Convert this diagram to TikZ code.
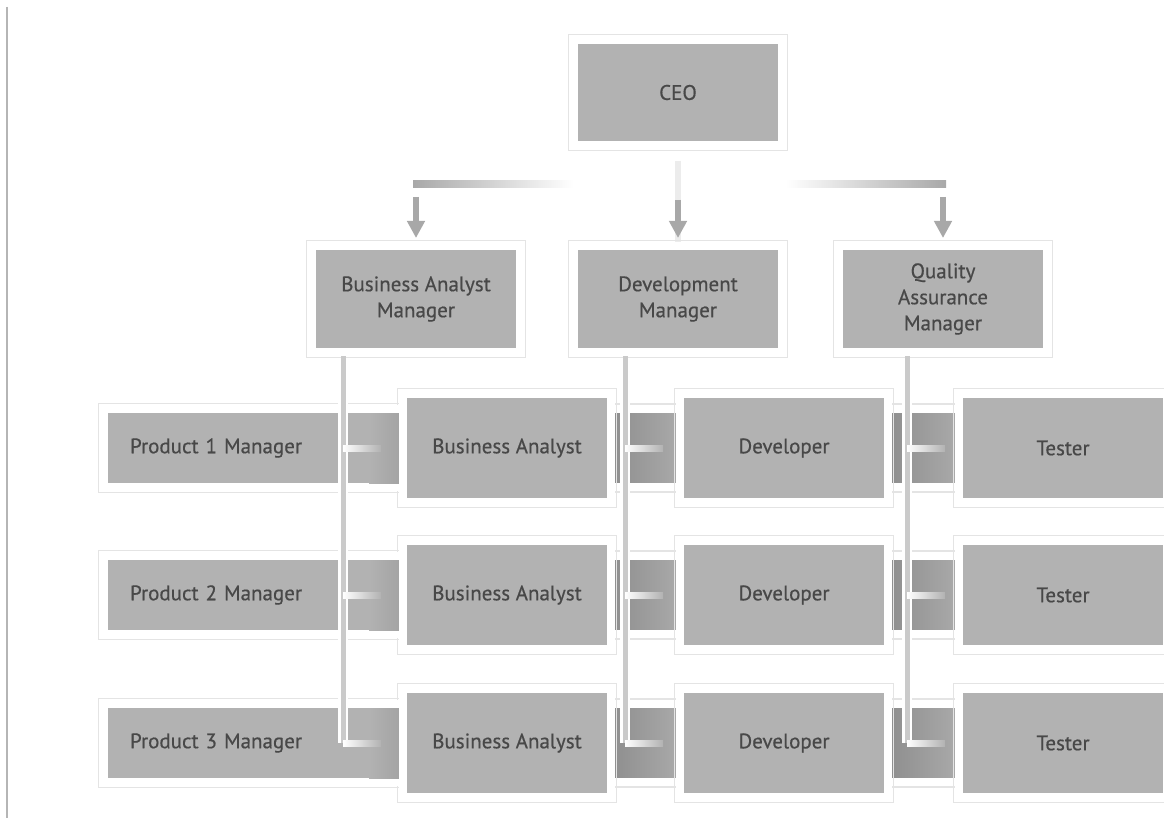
\documentclass[tikz,border=0pt]{standalone}
\usepackage{fontspec}
\setmainfont{PT Sans}
\newfontfamily\cardfam{PT Sans}[FakeBold=0.5]
\usetikzlibrary{arrows.meta,backgrounds}

\definecolor{boxgray}{HTML}{B2B2B2}
\definecolor{txtgray}{HTML}{484848}
\definecolor{bandL}{HTML}{8E8E8E}
\definecolor{bandR}{HTML}{AAAAAA}
\definecolor{linkgray}{HTML}{A8A8A8}
\definecolor{stemgray}{HTML}{CACACA}
\definecolor{framegray}{HTML}{E4E4E4}
\definecolor{edgegray}{HTML}{B5B5B5}

\newcommand\cardfont{\cardfam\fontsize{21}{26}\selectfont}

\begin{document}
\begin{tikzpicture}[x=1pt,y=-1pt,
  card/.style={fill=boxgray, draw=white, line width=8pt, inner sep=0pt,
    outer sep=0pt, text=txtgray, font=\cardfont, align=center},
  topcard/.style={card, minimum width=208pt, minimum height=106pt},
  rowcard/.style={card, minimum width=208pt, minimum height=108pt},
  pmcard/.style={card, anchor=west, minimum width=310pt, minimum height=78pt,
    text width=258pt, align=left},
  frameline/.style={draw=framegray, line width=1.4pt},
  link/.style={draw=linkgray, line width=6pt},
  linkarrow/.style={link, -{Triangle[width=17pt,length=17pt]}, shorten >=8pt},
  stemedge/.style={draw=white, line width=10pt},
  stemcore/.style={draw=stemgray, line width=5pt},
  dashfade/.style={left color=white, middle color=white, right color=boxgray},
]
\useasboundingbox (0,0) rectangle (1164,818);

% top of the chart
\node[topcard, minimum height=105pt] (ceo) at (678,92.5) {CEO};
\node[topcard] (bam) at (416,299) {Business Analyst\\Manager};
\node[topcard] (dm)  at (678,299) {Development\\Manager};
\node[topcard] (qam) at (943,299) {Quality\\Assurance\\Manager};

% product manager bands
\node[pmcard] (pm1) at (104,448) {Product 1 Manager};
\node[pmcard] (pm2) at (104,595) {Product 2 Manager};
\node[pmcard] (pm3) at (104,743) {Product 3 Manager};

% darker run of each band towards the analyst card
\foreach \r in {1,2,3}
  \shade[left color=boxgray, right color=bandL!60!boxgray]
    ([xshift=-45pt,yshift=-4pt]pm\r.north east) rectangle ([yshift=4pt]pm\r.south east);

% stems from the managers down through the rows
\coordinate (s1) at ([xshift=-73pt]bam.south);
\coordinate (s2) at ([xshift=-53pt]dm.south);
\coordinate (s3) at ([xshift=-36pt]qam.south);

% row cards
\foreach \r/\y in {1/448,2/595,3/743}{
  \node[rowcard] (ba\r)  at (507,\y)  {Business Analyst};
  \node[rowcard] (dev\r) at (784,\y)  {Developer};
  \node[rowcard] (t\r)   at (1063,\y) {Tester};
}

\foreach \s in {s1,s2,s3}{
  \draw[stemedge] ([yshift=-6pt]\s) -- (\s |- pm3.center);
  \draw[stemcore] ([yshift=-4pt]\s) -- (\s |- pm3.center);
  \foreach \r in {1,2,3}
    \shade[dashfade] ([yshift=3pt]\s |- pm\r.center) rectangle ([xshift=38pt,yshift=-3pt]\s |- pm\r.center);
}

\begin{scope}[on background layer]
  \fill[white] (0,0) rectangle (1164,818);
  % page edge
  \draw[edgegray, line width=2pt] (7,7) -- (7,818);

  % connector bus from the CEO
  \coordinate (busL) at ([xshift=-3pt]bam.north |- 0,184.5);
  \coordinate (busR) at ([xshift=3pt]qam.north |- 0,184.5);
  \shade[left color=linkgray, right color=white]
    ([yshift=3.5pt]busL) rectangle ([xshift=160pt,yshift=-3.5pt]busL);
  \shade[left color=white, right color=linkgray]
    ([xshift=-160pt,yshift=3.5pt]busR) rectangle ([yshift=-3.5pt]busR);
  \draw[draw=framegray!70!white, line width=6pt, shorten <=16pt] (ceo.south) -- (dm.north);
  \draw[linkarrow] (bam.north |- 0,197) -- (bam.north);
  \draw[linkarrow] (dm.north |- 0,200) -- (dm.north);
  \draw[linkarrow] (qam.north |- 0,197) -- (qam.north);

  % band runs between the row cards
  \foreach \r in {1,2,3}{
    \shade[left color=bandL, right color=bandR]
      (ba\r.east |- pm\r.north) rectangle (dev\r.west |- pm\r.south);
    \shade[left color=bandL, right color=bandR]
      (dev\r.east |- pm\r.north) rectangle (t\r.west |- pm\r.south);
    \foreach \a/\b in {ba/dev,dev/t}{
      \draw[white, line width=8pt] (\a\r.east |- pm\r.north) -- (\b\r.west |- pm\r.north);
      \draw[white, line width=8pt] (\a\r.east |- pm\r.south) -- (\b\r.west |- pm\r.south);
      \draw[frameline] ([yshift=5pt]\a\r.east |- pm\r.north) -- ([yshift=5pt]\b\r.west |- pm\r.north);
      \draw[frameline] ([yshift=-5pt]\a\r.east |- pm\r.south) -- ([yshift=-5pt]\b\r.west |- pm\r.south);
    }
  }

  % faint outer frames of the cards
  \foreach \n in {ceo,bam,dm,qam,pm1,pm2,pm3,ba1,ba2,ba3,dev1,dev2,dev3,t1,t2,t3}
    \draw[frameline] ([shift={(-5.5pt,5.5pt)}]\n.north west) rectangle ([shift={(5.5pt,-5.5pt)}]\n.south east);
\end{scope}
\end{tikzpicture}
\end{document}
